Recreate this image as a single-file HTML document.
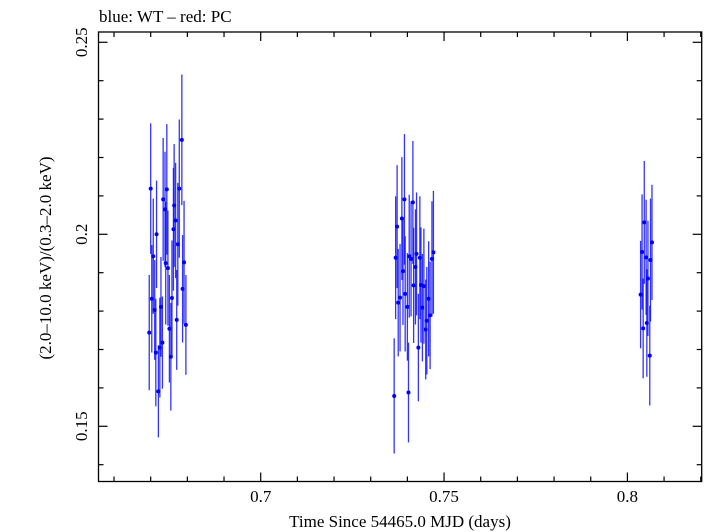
<!DOCTYPE html>
<html><head><meta charset="utf-8"><style>
body{margin:0;background:#fff;}
svg{display:block;font-family:"Liberation Serif",serif;}
</style></head><body>
<svg id="chart" width="705" height="532" viewBox="0 0 705 532">
<rect x="0" y="0" width="705" height="532" fill="#fff"/>
<text x="99" y="22" font-size="17">blue: WT – red: PC</text>
<text x="400" y="527" font-size="17" text-anchor="middle">Time Since 54465.0 MJD (days)</text>
<text transform="translate(51,258) rotate(-90)" font-size="17" text-anchor="middle">(2.0–10.0 keV)/(0.3–2.0 keV)</text>
<g id="axes"></g>
<g id="series"></g>
<rect x="98.5" y="32" width="603.2" height="449.5" fill="none" stroke="#000" stroke-width="1.3"/>
</svg>
<script>
const xTickLabels=["0.7","0.75","0.8"];
const xTicks=[0.7,0.75,0.8];
const yTickLabels=["0.15","0.2","0.25"];
const yTicks=[0.15,0.2,0.25];
const times=[0.6700,0.6716,0.6707,0.6703,0.6711,0.6696,0.6714,0.6721,0.6725,0.6728,0.6732,0.6734,0.6739,0.6741,0.6744,0.6747,0.6751,0.6755,0.6758,0.6762,0.6764,0.6768,0.6771,0.6774,0.6778,0.6785,0.6787,0.6791,0.6796,
0.7364,0.7368,0.7372,0.7375,0.7380,0.7385,0.7388,0.7392,0.7394,0.7400,0.7403,0.7405,0.7410,0.7415,0.7417,0.7422,0.7425,0.7430,0.7434,0.7437,0.7441,0.7445,0.7450,0.7453,0.7458,0.7462,0.7467,0.7471,
0.8036,0.8040,0.8043,0.8046,0.8051,0.8053,0.8056,0.8061,0.8063,0.8067];
const ratios=[0.2119,0.2000,0.1943,0.1832,0.1803,0.1744,0.1692,0.1591,0.1705,0.1811,0.1718,0.2091,0.2065,0.1925,0.2117,0.1912,0.1754,0.1681,0.1834,0.2013,0.2075,0.2036,0.1777,0.1974,0.2119,0.2246,0.1858,0.1927,0.1764,
0.1579,0.1939,0.2020,0.1822,0.1835,0.2041,0.1904,0.2091,0.1845,0.1811,0.1588,0.1943,0.1936,0.2083,0.1867,0.1915,0.1949,0.1705,0.1939,0.1868,0.1809,0.1865,0.1752,0.1775,0.1832,0.1789,0.1936,0.1953,
0.1843,0.1954,0.1755,0.2031,0.1940,0.1769,0.1885,0.1684,0.1933,0.1979];
const errors=[0.017,0.014,0.015,0.014,0.013,0.015,0.014,0.012,0.013,0.013,0.012,0.016,0.015,0.016,0.017,0.015,0.014,0.014,0.015,0.016,0.016,0.015,0.013,0.016,0.018,0.017,0.014,0.016,0.013,
0.015,0.016,0.016,0.014,0.014,0.016,0.014,0.017,0.015,0.014,0.013,0.016,0.015,0.016,0.015,0.015,0.016,0.014,0.016,0.015,0.014,0.015,0.013,0.014,0.015,0.014,0.015,0.016,
0.014,0.015,0.013,0.016,0.015,0.014,0.015,0.013,0.016,0.015];
const NS="http://www.w3.org/2000/svg";
const X0=98.5,X1=701.7,Y0=481.5,Y1=32;
const xMin=0.7-(260.7-X0)/3667, xMax=0.7+(X1-260.7)/3667;
const yMin=0.2-(Y0-234.3)/3840, yMax=0.2+(234.3-Y1)/3840;
function sx(v){return X0+(v-xMin)/(xMax-xMin)*(X1-X0);}
function sy(v){return Y0-(v-yMin)/(yMax-yMin)*(Y0-Y1);}
function mk(tag,attrs,parent){const e=document.createElementNS(NS,tag);for(const k in attrs)e.setAttribute(k,attrs[k]);parent.appendChild(e);return e;}
const axes=document.getElementById('axes');
// minor ticks
for(let v=0.66;v<=0.82+1e-9;v+=0.01){
  const major=xTicks.some(t=>Math.abs(t-v)<1e-6);
  const L=major?9:5,x=sx(v);
  const t1=mk('line',{x1:x,x2:x,y1:Y0,y2:Y0-L,stroke:'#000','stroke-width':1.2},axes);
  
  
  const t2=mk('line',{x1:x,x2:x,y1:Y1,y2:Y1+L,stroke:'#000','stroke-width':1.2},axes);
  
  
}
for(let v=0.14;v<=0.25+1e-9;v+=0.01){
  const major=yTicks.some(t=>Math.abs(t-v)<1e-6);
  const L=major?9:5,y=sy(v);
  const t1=mk('line',{x1:X0,x2:X0+L,y1:y,y2:y,stroke:'#000','stroke-width':1.2},axes);
  
  
  const t2=mk('line',{x1:X1,x2:X1-L,y1:y,y2:y,stroke:'#000','stroke-width':1.2},axes);
  
  
}
xTicks.forEach((v,i)=>{
  const t=mk('text',{x:sx(v),y:502,'font-size':17,'text-anchor':'middle'},axes);
  t.textContent=xTickLabels[i];
  
  
});
yTicks.forEach((v,i)=>{
  const t=mk('text',{transform:`translate(87,${sy(v)}) rotate(-90)`,'font-size':17,'text-anchor':'middle'},axes);
  t.textContent=yTickLabels[i];
  
  
});
const series=document.getElementById('series');
times.forEach((t,i)=>{
  const x=sx(t),y=sy(ratios[i]);
  const g=mk('g',{},series);
  
  
  mk('line',{x1:x,x2:x,y1:sy(ratios[i]-errors[i]),y2:sy(ratios[i]+errors[i]),stroke:'#0000ff','stroke-width':1.3,'stroke-opacity':0.8},g);
  mk('circle',{cx:x,cy:y,r:2,fill:'#0000ff'},g);
});
</script>
</body></html>
